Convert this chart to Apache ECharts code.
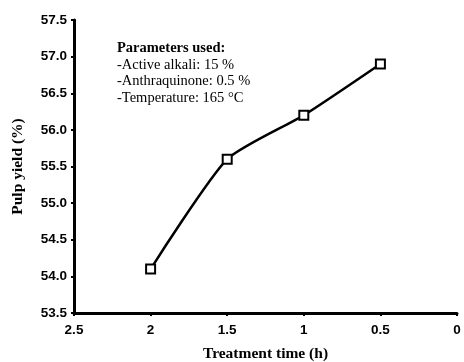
<!DOCTYPE html>
<html><head><meta charset="utf-8">
<script src="https://cdn.jsdelivr.net/npm/echarts@6/dist/echarts.min.js"></script>
<style>html,body{margin:0;padding:0;background:#fff}#c{width:464px;height:362px}</style>
</head><body><div id="c"></div>
<script>
var times = [2, 1.5, 1, 0.5];
var yields = [54.1, 55.6, 56.2, 56.9];
var xTitle = 'Treatment time (h)';
var yTitle = 'Pulp yield (%)';
var noteLines = ['Parameters used:', '-Active alkali: 15 %', '-Anthraquinone: 0.5 %', '-Temperature: 165 °C'];

var chart = echarts.init(document.getElementById('c'));
var axisLab = {color:'#000', fontFamily:'Liberation Sans, Arial, sans-serif', fontWeight:'bold', fontSize:13.5};
var serif = 'Liberation Serif, Times New Roman, serif';
chart.setOption({
  animation:false,
  backgroundColor:'#fff',
  grid:{left:74, right:7, top:20, bottom:49, containLabel:false, outerBoundsMode:'none'},
  xAxis:{type:'value', min:0, max:2.5, interval:0.5, inverse:true,
    name:xTitle, nameLocation:'middle', nameGap:33,
    nameTextStyle:{color:'#000', fontFamily:serif, fontWeight:'bold', fontSize:15.5},
    axisLine:{show:true, onZero:false, lineStyle:{color:'#000', width:3}},
    axisTick:{show:true, length:3, lineStyle:{color:'#000', width:2}},
    axisLabel:Object.assign({margin:10}, axisLab),
    splitLine:{show:false}},
  yAxis:{type:'value', min:53.5, max:57.5, interval:0.5, position:'left',
    name:yTitle, nameLocation:'middle', nameGap:48,
    nameTextStyle:{color:'#000', fontFamily:serif, fontWeight:'bold', fontSize:15.5},
    axisLine:{show:true, onZero:false, lineStyle:{color:'#000', width:3}},
    axisTick:{show:true, length:3, lineStyle:{color:'#000', width:2}},
    axisLabel:Object.assign({margin:7, formatter:function(v){return v.toFixed(1);}}, axisLab),
    splitLine:{show:false}},
  graphic:[{type:'text', left:117, top:41, style:{
    rich:{b:{fontFamily:serif, fontWeight:'bold', fontSize:14.5, lineHeight:16.5, fill:'#000'},
          n:{fontFamily:serif, fontSize:14.5, lineHeight:16.5, fill:'#000'}},
    text:'{b|'+noteLines[0]+'}\n{n|'+noteLines[1]+'}\n{n|'+noteLines[2]+'}\n{n|'+noteLines[3]+'}'}}],
  series:[{type:'line', data:times.map(function(t,i){return [t, yields[i]];}),
    smooth:0.2, symbol:'rect', symbolSize:9,
    lineStyle:{color:'#000', width:2.5},
    itemStyle:{color:'#fff', borderColor:'#000', borderWidth:2}}]
});
</script></body></html>
